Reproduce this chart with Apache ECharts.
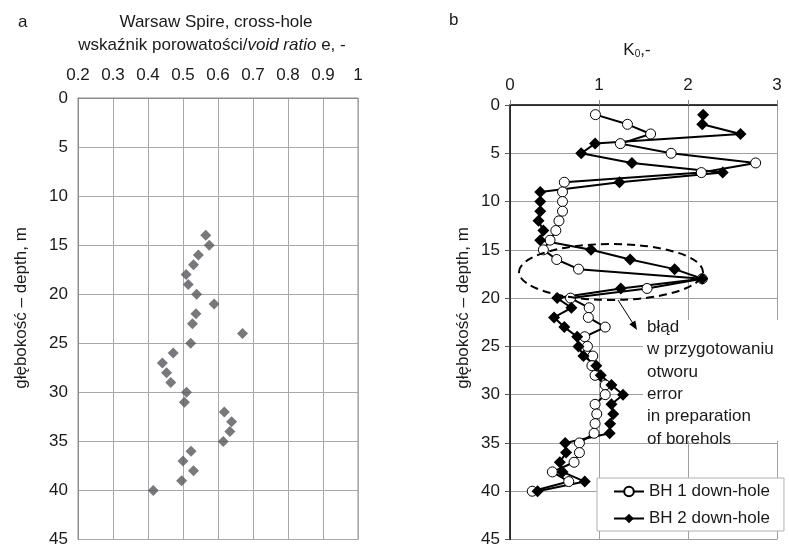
<!DOCTYPE html>
<html>
<head>
<meta charset="utf-8">
<script src="https://cdn.jsdelivr.net/npm/echarts@6/dist/echarts.min.js"></script>
<style>
  html, body { margin: 0; padding: 0; background: #fff; }
  #chart { width: 789px; height: 548px; }
</style>
</head>
<body>
<div id="chart"></div>
<script>
// panel a - void ratio vs depth
var depthA = [14, 15, 16, 17, 18, 19, 20, 21, 22, 23, 24, 25, 26, 27, 28, 29, 30, 31, 32, 33, 34, 35, 36, 37, 38, 39, 40];
var voidRatio = [0.565, 0.575, 0.544, 0.53, 0.509, 0.515, 0.539, 0.589, 0.537, 0.527, 0.67, 0.522, 0.472, 0.441, 0.453, 0.465,
  0.51, 0.504, 0.618, 0.639, 0.634, 0.615, 0.523, 0.50, 0.53, 0.496, 0.415];

// panel b - K0 vs depth
var depthB = [1, 2, 3, 4, 5, 6, 7, 8, 9, 10, 11, 12, 13, 14, 15, 16, 17, 18, 19, 20,
  21, 22, 23, 24, 25, 26, 27, 28, 29, 30, 31, 32, 33, 34, 35, 36, 37, 38, 39, 40];
var bh1 = [0.96, 1.32, 1.58, 1.24, 1.81, 2.76, 2.15, 0.61, 0.59, 0.59, 0.59, 0.55, 0.515, 0.45, 0.375, 0.525, 0.77, 2.16, 1.54, 0.68,
  0.89, 0.88, 1.07, 0.84, 0.87, 0.93, 0.92, 0.956, 1.07, 1.07, 0.956, 0.975, 0.956, 0.945, 0.78, 0.78, 0.72, 0.476, 0.66, 0.25];
var bh2 = [2.17, 2.16, 2.59, 0.956, 0.80, 1.37, 2.39, 1.23, 0.34, 0.34, 0.34, 0.32, 0.375, 0.34, 0.91, 1.35, 1.85, 2.16, 1.245, 0.53,
  0.69, 0.495, 0.61, 0.755, 0.77, 0.825, 0.97, 1.02, 1.14, 1.27, 1.14, 1.16, 1.125, 1.12, 0.62, 0.63, 0.56, 0.59, 0.84, 0.31];

var names = ['BH 1 down-hole', 'BH 2 down-hole'];
var FONT = 'Liberation Sans, Arial, sans-serif';

function pairs(xs, ys) {
  return xs.map(function (v, i) { return [v, ys[i]]; });
}

var myChart = echarts.init(document.getElementById('chart'));
myChart.setOption({
  animation: false,
  textStyle: { fontFamily: FONT },
  grid: [
    { left: 78, top: 98, width: 280, height: 444, show: true, borderColor: '#8c8c8c', borderWidth: 1 },
    { left: 510, top: 105, width: 267, height: 440 }
  ],
  xAxis: [
    {
      gridIndex: 0, type: 'value', position: 'top',
      min: 0.2, max: 1, interval: 0.1,
      axisLine: { show: true, lineStyle: { color: '#8c8c8c' } },
      axisTick: { show: false },
      axisLabel: {
        margin: 14, fontSize: 17, color: '#1a1a1a',
        formatter: function (v) { return String(+v.toFixed(1)); }
      },
      splitLine: { show: true, lineStyle: { color: '#a8a8a8' } }
    },
    {
      gridIndex: 1, type: 'value', position: 'top',
      min: 0, max: 3, interval: 1,
      axisLine: { show: true, lineStyle: { color: '#000', width: 1.5 } },
      axisTick: { show: true, length: 5, lineStyle: { color: '#888' } },
      axisLabel: { margin: 11, fontSize: 17, color: '#1a1a1a' },
      splitLine: { show: true, lineStyle: { color: '#a0a0a0' } }
    }
  ],
  yAxis: [
    {
      gridIndex: 0, type: 'value', inverse: true,
      min: 0, max: 45, interval: 5,
      axisLine: { show: true, lineStyle: { color: '#8c8c8c' } },
      axisTick: { show: false },
      axisLabel: { margin: 10, fontSize: 17, color: '#1a1a1a' },
      splitLine: { show: true, lineStyle: { color: '#a8a8a8' } }
    },
    {
      gridIndex: 1, type: 'value', inverse: true,
      min: 0, max: 45, interval: 5,
      axisLine: { show: true, lineStyle: { color: '#000', width: 1.5 } },
      axisTick: { show: true, length: 5, lineStyle: { color: '#555' } },
      axisLabel: { margin: 10, fontSize: 17, color: '#1a1a1a' },
      splitLine: { show: true, lineStyle: { color: '#a0a0a0' } }
    }
  ],
  legend: {
    data: names,
    orient: 'vertical',
    left: 597, top: 478,
    backgroundColor: '#fff',
    borderColor: '#b0b0b0', borderWidth: 1,
    padding: [5, 14, 4, 16],
    itemWidth: 30, itemHeight: 12, itemGap: 10,
    textStyle: { fontSize: 17, color: '#1a1a1a', fontFamily: FONT }
  },
  series: [
    {
      type: 'scatter', xAxisIndex: 0, yAxisIndex: 0,
      data: pairs(voidRatio, depthA),
      symbol: 'diamond', symbolSize: 11,
      itemStyle: { color: '#55585c' }
    },
    {
      name: names[0], type: 'line', xAxisIndex: 1, yAxisIndex: 1,
      data: pairs(bh1, depthB),
      symbol: 'circle', symbolSize: 10, showAllSymbol: true,
      itemStyle: { color: '#fff', borderColor: '#000', borderWidth: 1 },
      lineStyle: { color: '#000', width: 2 }
    },
    {
      name: names[1], type: 'line', xAxisIndex: 1, yAxisIndex: 1,
      data: pairs(bh2, depthB),
      symbol: 'diamond', symbolSize: 12, showAllSymbol: true,
      itemStyle: { color: '#000' },
      lineStyle: { color: '#000', width: 2 }
    }
  ],
  graphic: [
    { type: 'text', x: 18, y: 22, z: 5, style: { text: 'a', font: '17px ' + FONT, fill: '#1a1a1a', textVerticalAlign: 'middle' } },
    { type: 'text', x: 449, y: 20, z: 5, style: { text: 'b', font: '17px ' + FONT, fill: '#1a1a1a', textVerticalAlign: 'middle' } },
    { type: 'text', x: 216, y: 22, z: 5, style: { text: 'Warsaw Spire, cross-hole', font: '17px ' + FONT, fill: '#1a1a1a', textAlign: 'center', textVerticalAlign: 'middle' } },
    {
      type: 'text', x: 212, y: 45, z: 5,
      style: {
        text: 'wskaźnik porowatości/{i|void ratio} e, -',
        font: '17px ' + FONT, fill: '#1a1a1a', textAlign: 'center', textVerticalAlign: 'middle',
        rich: { i: { fontStyle: 'italic', fontSize: 17, fontFamily: FONT, fill: '#1a1a1a' } }
      }
    },
    {
      type: 'text', x: 637, y: 50, z: 5,
      style: {
        text: 'K{s|0},-', font: '17px ' + FONT, fill: '#1a1a1a', textAlign: 'center', textVerticalAlign: 'middle',
        rich: { s: { fontSize: 10, fontFamily: FONT, fill: '#1a1a1a', verticalAlign: 'bottom', padding: [8, 0, 0, 0] } }
      }
    },
    { type: 'text', x: 21, y: 308, rotation: Math.PI / 2, z: 5, style: { text: 'głębokość – depth, m', font: '17px ' + FONT, fill: '#1a1a1a', textAlign: 'center', textVerticalAlign: 'middle' } },
    { type: 'text', x: 463, y: 308, rotation: Math.PI / 2, z: 5, style: { text: 'głębokość – depth, m', font: '17px ' + FONT, fill: '#1a1a1a', textAlign: 'center', textVerticalAlign: 'middle' } },
    // white box behind the note
    { type: 'rect', z: 1, shape: { x: 643, y: 320, width: 146, height: 121 }, style: { fill: '#fff' } },
    {
      type: 'text', x: 647, y: 316, z: 5,
      style: {
        text: 'błąd\nw przygotowaniu\notworu\nerror\nin preparation\nof borehols',
        font: '17px ' + FONT, fill: '#1a1a1a', lineHeight: 22.4
      }
    },
    { type: 'ellipse', z: 4, shape: { cx: 611, cy: 272, rx: 92, ry: 28 }, style: { fill: 'none', stroke: '#000', lineWidth: 2, lineDash: [8, 5] } },
    { type: 'line', z: 4, shape: { x1: 618, y1: 300, x2: 634, y2: 325 }, style: { stroke: '#000', lineWidth: 1 } },
    { type: 'polygon', z: 4, shape: { points: [[637, 330], [629.3, 324.2], [635.3, 320.5]] }, style: { fill: '#000' } }
  ]
});
</script>
</body>
</html>
